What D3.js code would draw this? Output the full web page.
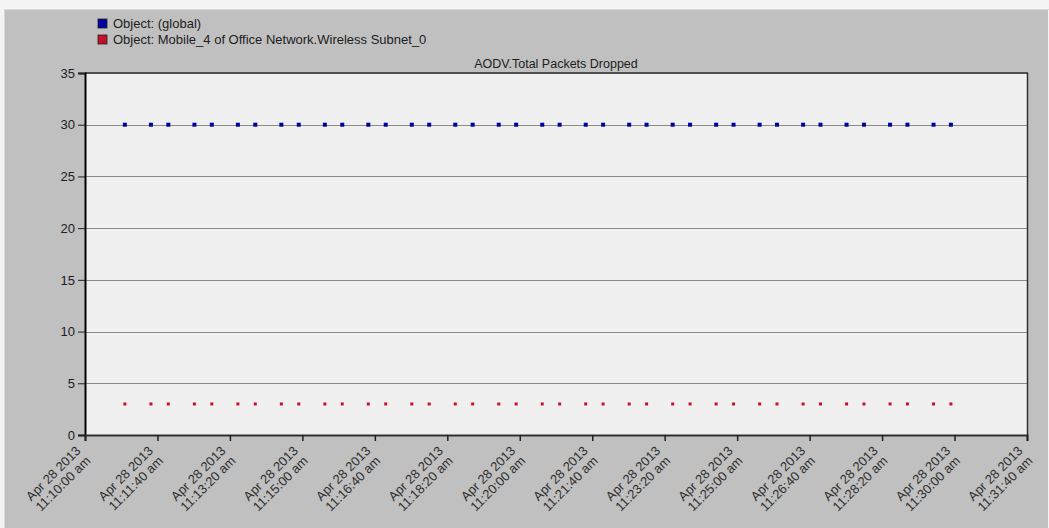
<!DOCTYPE html>
<html><head><meta charset="utf-8">
<script src="https://cdn.jsdelivr.net/npm/d3@7"></script>
<style>
html,body{margin:0;padding:0;background:#f4f4f4;}
svg{display:block;font-family:"Liberation Sans",Arial,sans-serif;}
</style></head>
<body><svg id="c" width="1049" height="528"></svg>
<script>
const seriesNames = ["Object: (global)", "Object: Mobile_4 of Office Network.Wireless Subnet_0"];
const seriesColors = ["#0000a0", "#c8102e"];
const chartTitle = "AODV.Total Packets Dropped";
const sampleTimes = ["11:10:55","11:11:31","11:11:55","11:12:31","11:12:55","11:13:31","11:13:55","11:14:31","11:14:55","11:15:31","11:15:55","11:16:31","11:16:55","11:17:31","11:17:55","11:18:31","11:18:55","11:19:31","11:19:55","11:20:31","11:20:55","11:21:31","11:21:55","11:22:31","11:22:55","11:23:31","11:23:55","11:24:31","11:24:55","11:25:31","11:25:55","11:26:31","11:26:55","11:27:31","11:27:55","11:28:31","11:28:55","11:29:31","11:29:55"];
const globalValues = [30,30,30,30,30,30,30,30,30,30,30,30,30,30,30,30,30,30,30,30,30,30,30,30,30,30,30,30,30,30,30,30,30,30,30,30,30,30,30];
const mobileValues = [3,3,3,3,3,3,3,3,3,3,3,3,3,3,3,3,3,3,3,3,3,3,3,3,3,3,3,3,3,3,3,3,3,3,3,3,3,3,3];
const xTickTimes = ["11:10:00","11:11:40","11:13:20","11:15:00","11:16:40","11:18:20","11:20:00","11:21:40","11:23:20","11:25:00","11:26:40","11:28:20","11:30:00","11:31:40"];
const xTickDate = "Apr 28 2013";
const yTicks = [0,5,10,15,20,25,30,35];

const parse = d3.timeParse("%Y-%m-%d %H:%M:%S");
const toDate = t => parse("2013-04-28 " + t);

const svg = d3.select("#c");
const W = 1049, H = 528;
const m = {left: 85, right: 1027, top: 73, bottom: 435};

// outer panel
svg.append("rect").attr("x",4).attr("y",9).attr("width",W-5).attr("height",H-9).attr("fill","#c0c0c0");
svg.append("line").attr("x1",4).attr("x2",W).attr("y1",9.5).attr("y2",9.5).attr("stroke","#d8d8d8");
svg.append("line").attr("x1",4.5).attr("x2",4.5).attr("y1",9).attr("y2",H).attr("stroke","#d8d8d8");

const x = d3.scaleTime().domain([toDate(xTickTimes[0]), toDate(xTickTimes[xTickTimes.length-1])]).range([m.left, m.right]);
const y = d3.scaleLinear().domain([0,35]).range([m.bottom, m.top]);

// plot background
svg.append("rect").attr("x",m.left).attr("y",m.top).attr("width",m.right-m.left).attr("height",m.bottom-m.top).attr("fill","#f0f0f0");

// grid
svg.append("g").selectAll("line").data(yTicks.filter(v=>v>0 && v<35)).join("line")
  .attr("x1",m.left).attr("x2",m.right).attr("y1",d=>Math.round(y(d))+0.5).attr("y2",d=>Math.round(y(d))+0.5)
  .attr("stroke","#8c8c8c").attr("stroke-width",1);

// borders
svg.append("line").attr("x1",m.left).attr("x2",m.right+1).attr("y1",m.top).attr("y2",m.top).attr("stroke","#505050").attr("stroke-width",2);
svg.append("line").attr("x1",m.right+0.5).attr("x2",m.right+0.5).attr("y1",m.top).attr("y2",m.bottom).attr("stroke","#303030").attr("stroke-width",1.5);

// y axis
const yAxis = d3.axisLeft(y).tickValues(yTicks).tickSize(7).tickPadding(3);
const gy = svg.append("g").attr("transform",`translate(${m.left},0)`).call(yAxis);
gy.select(".domain").attr("stroke","#000").attr("stroke-width",2);
gy.selectAll(".tick line").attr("stroke","#202020");
gy.selectAll(".tick text").attr("font-size",13).attr("fill","#202020").attr("font-family","Liberation Sans, Arial, sans-serif");

// x axis
const xAxis = d3.axisBottom(x).tickValues(xTickTimes.map(toDate)).tickSize(6).tickFormat("");
const gx = svg.append("g").attr("transform",`translate(0,${m.bottom})`).call(xAxis);
gx.select(".domain").attr("stroke","#303030").attr("stroke-width",2);
gx.selectAll(".tick line").attr("stroke","#202020").attr("stroke-width",1.5);

const lab = svg.append("g").selectAll("g").data(xTickTimes).join("g")
  .attr("transform", t => `translate(${x(toDate(t))},${m.bottom+6}) rotate(-45)`);
lab.append("text").attr("x",-10).attr("y",5).attr("text-anchor","end").attr("font-size",13).attr("fill","#303030").text(xTickDate);
lab.append("text").attr("x",-10).attr("y",19).attr("text-anchor","end").attr("font-size",13).attr("fill","#303030").text(t=>t+" am");

// title
svg.append("text").attr("x",(m.left+m.right)/2).attr("y",68).attr("text-anchor","middle")
  .attr("font-size",12.5).attr("fill","#202020").text(chartTitle);

// legend
const leg = svg.append("g").selectAll("g").data(seriesNames).join("g")
  .attr("transform",(d,i)=>`translate(98,${19+i*16})`);
leg.append("rect").attr("width",9).attr("height",9).attr("fill",(d,i)=>seriesColors[i]).attr("stroke","#202020").attr("stroke-width",0.8);
leg.append("text").attr("x",15).attr("y",8.5).attr("font-size",13).attr("fill","#202020").text(d=>d);

// points
const blue = sampleTimes.map((t,i)=>({t:toDate(t), v:globalValues[i]}));
const red = sampleTimes.map((t,i)=>({t:toDate(t), v:mobileValues[i]}));
svg.append("g").selectAll("rect").data(blue).join("rect")
  .attr("x",d=>x(d.t)-2).attr("y",d=>y(d.v)-2).attr("width",4).attr("height",4).attr("fill",seriesColors[0]);
svg.append("g").selectAll("rect").data(red).join("rect")
  .attr("x",d=>x(d.t)-1.5).attr("y",d=>y(d.v)-1.5).attr("width",3).attr("height",3).attr("fill",seriesColors[1]);
</script></body></html>
